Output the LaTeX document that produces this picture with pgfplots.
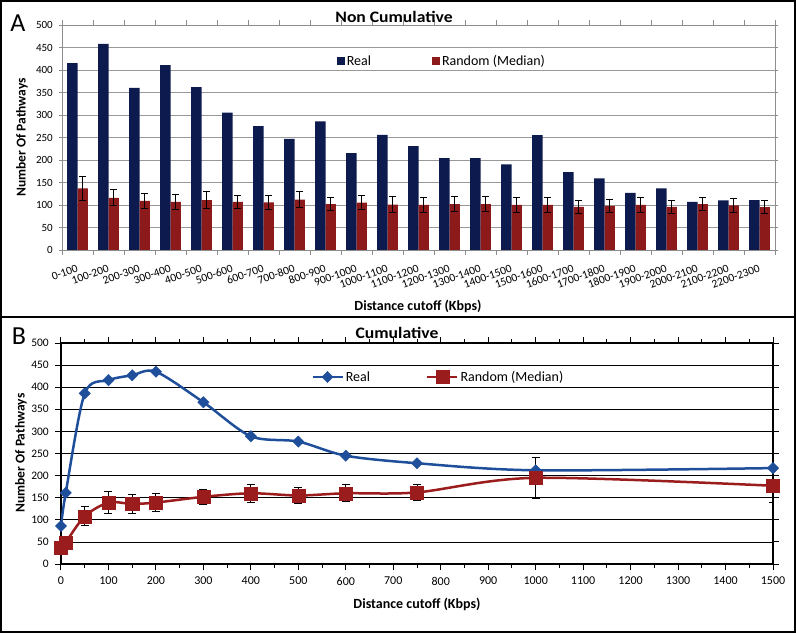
\documentclass[border=0pt]{standalone}
\usepackage{fontspec}
\setmainfont{Carlito}
\newfontfamily\titlefont[FakeStretch=1.1]{Carlito}
\usepackage{pgfplots}
\pgfplotsset{compat=1.18}
\usepackage{pgfplotstable}

\definecolor{navy}{HTML}{0C1A4E}
\definecolor{brick}{HTML}{8C1A1A}
\definecolor{lblue}{HTML}{1F4E9A}
\definecolor{lred}{HTML}{9A1C1C}

% non cumulative bins: position, real, random median, error
\pgfplotstableread{
x    real rnd err
0.5  415  137 26
1.5  458  116 18
2.5  360  109 17
3.5  411  107 16
4.5  362  111 18
5.5  305  107 15
6.5  275  106 16
7.5  247  112 17
8.5  286  102 15
9.5  215  105 16
10.5 256  101 18
11.5 231  100 17
12.5 204  102 16
13.5 204  102 16
14.5 190  100 16
15.5 255  100 16
16.5 173  96  15
17.5 159  98  15
18.5 127  100 16
19.5 137  96  14
20.5 107  102 15
21.5 110  99  15
22.5 111  95  14
}\noncum

\pgfplotstableread{
x    y
0    86
10   161
50   386
100  416
150  427
200  435
300  366
400  289
500  277
600  245
750  228
1000 212
1500 217
}\cumreal

\pgfplotstableread{
x    y   err
0    37  4
10   49  4
50   108 21
100  139 25
150  136 22
200  139 21
300  152 17
400  160 20
500  155 18
600  160 19
750  162 18
1000 195 47
1500 177 37
}\cumrnd

\begin{document}
\begin{tikzpicture}[x=1pt,y=1pt]
\useasboundingbox (0,0) rectangle (796,633);
\draw[line width=2pt] (1,1) rectangle (795,632);
\draw[line width=2pt] (0,316) -- (796,316);

% ---- A: non cumulative
\begin{axis}[
  at={(62pt,383pt)}, anchor=south west,
  scale only axis, width=713pt, height=225pt,
  xmin=0, xmax=23, ymin=0, ymax=500,
  ytick={0,50,...,500},
  xtick={0.5,1.5,...,22.5},
  xticklabels={0-100,100-200,200-300,300-400,400-500,500-600,600-700,700-800,800-900,900-1000,1000-1100,1100-1200,1200-1300,1300-1400,1400-1500,1500-1600,1600-1700,1700-1800,1800-1900,1900-2000,2000-2100,2100-2200,2200-2300},
  minor xtick={0,1,...,23},
  major x tick style={draw=none},
  minor tick length=5pt, major tick length=3pt,
  tick align=outside,
  ymajorgrids, grid style={gray!80, line width=0.8pt},
  axis line style={gray!90, line width=0.8pt},
  tick style={gray!90, line width=0.8pt},
  ybar=0pt, bar width=10.3pt,
  scaled ticks=false,
  /pgf/number format/assume math mode=true,
  tick label style={font=\fontsize{11}{13}\selectfont},
  yticklabel style={inner sep=0pt, xshift=-6pt},
  xticklabel style={inner sep=0pt, anchor=east, yshift=-15pt, rotate=20,
    font=\fontsize{11.5}{13}\selectfont},
  legend style={at={(0.381,0.84)}, anchor=west, draw=none, fill=none,
    font=\fontsize{14}{16}\selectfont, legend columns=2,
    /tikz/every even column/.append style={column sep=59pt}},
  legend image code/.code={\fill[#1] (0pt,-4pt) rectangle (8pt,4pt);},
]
\addplot[fill=navy, draw=none] table[x=x, y=real] {\noncum};
\addlegendentry{Real}
\addplot[fill=brick, draw=none,
  error bars/.cd, y dir=both, y explicit,
  error bar style={black, line width=1pt},
  error mark options={rotate=90, black, line width=1pt, mark size=3.5pt}]
  table[x=x, y=rnd, y error=err] {\noncum};
\addlegendentry{Random (Median)}
\end{axis}

% ---- B: cumulative
\begin{axis}[
  at={(61pt,69pt)}, anchor=south west,
  scale only axis, width=712pt, height=221pt,
  xmin=0, xmax=1500, ymin=0, ymax=500,
  xtick={0,100,...,1500}, minor x tick num=1,
  ytick={0,50,...,500},
  tick align=outside, major tick length=6pt, minor tick length=4pt,
  ymajorgrids, grid style={black, line width=0.8pt},
  axis line style={black, line width=1.2pt},
  tick style={black, line width=1pt},
  scaled ticks=false,
  /pgf/number format/assume math mode=true,
  /pgf/number format/1000 sep={},
  tick label style={font=\fontsize{12}{14}\selectfont},
  yticklabel style={inner sep=0pt, xshift=-6pt, font=\fontsize{11.5}{13}\selectfont},
  xticklabel style={inner sep=0pt, yshift=-7pt},
  legend style={at={(0.347,0.846)}, anchor=west, draw=none, fill=none,
    font=\fontsize{14}{16}\selectfont, legend columns=2,
    /tikz/every even column/.append style={column sep=54pt}},
  legend image code/.code={\draw[mark repeat=2, mark phase=2, #1] plot coordinates {(0pt,0pt) (15pt,0pt) (30pt,0pt)};},
]
\addplot[lblue, line width=2.5pt, smooth, mark=square*,
  mark size=4pt, mark options={rotate=45, line width=0.4pt, fill=lblue}]
  table[x=x, y=y] {\cumreal};
\addlegendentry{Real}
\addplot[lred, line width=2.5pt, smooth, mark=square*,
  mark size=6.5pt, mark options={line width=0.4pt, fill=lred},
  error bars/.cd, y dir=both, y explicit,
  error bar style={black, line width=1pt},
  error mark options={rotate=90, black, line width=1pt, mark size=4pt}]
  table[x=x, y=y, y error=err] {\cumrnd};
\addlegendentry{Random (Median)}
\end{axis}

% titles and labels
\node[font=\titlefont\bfseries\fontsize{16}{18}\selectfont] at (394,616.5) {Non Cumulative};
\node[font=\titlefont\bfseries\fontsize{16}{18}\selectfont] at (397,300) {Cumulative};
\node[font=\bfseries\fontsize{14}{16}\selectfont] at (418,327) {Distance cutoff (Kbps)};
\node[font=\bfseries\fontsize{14}{16}\selectfont] at (417,29) {Distance cutoff (Kbps)};
\node[font=\bfseries\fontsize{13.5}{16}\selectfont, rotate=90] at (22,495.5) {Number Of Pathways};
\node[font=\bfseries\fontsize{13.5}{16}\selectfont, rotate=90] at (21,180) {Number Of Pathways};
\node[font=\fontsize{26}{28}\selectfont] at (18,610) {A};
\node[font=\fontsize{26}{28}\selectfont] at (19,296.5) {B};
\end{tikzpicture}
\end{document}
